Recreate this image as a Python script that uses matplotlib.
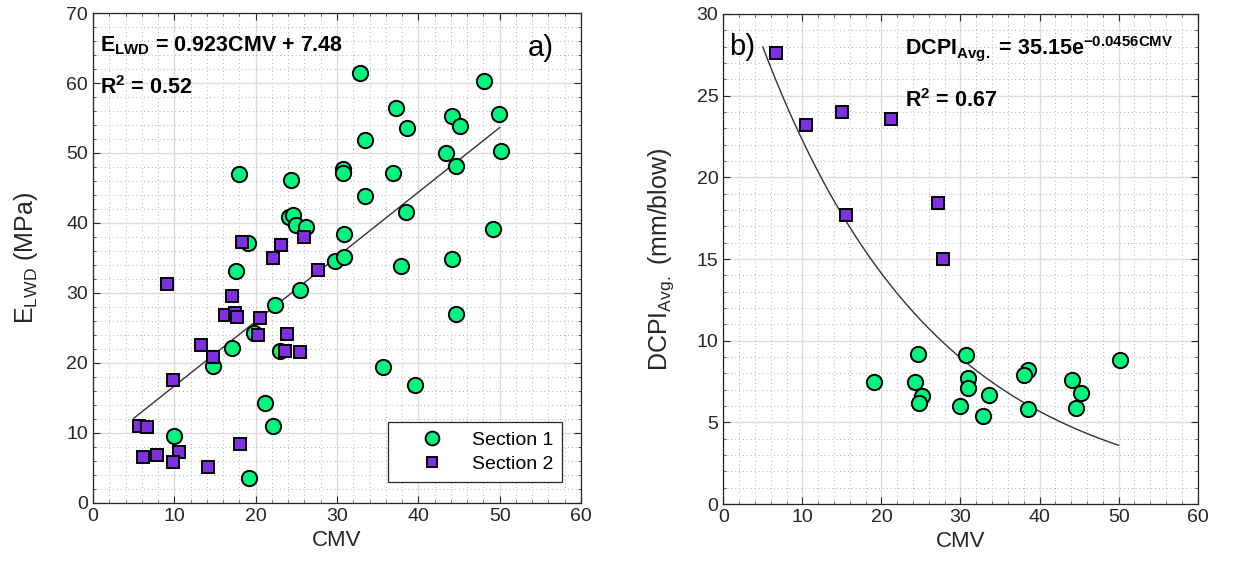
import numpy as np
import matplotlib
matplotlib.use("Agg")
import matplotlib.pyplot as plt
from matplotlib.ticker import MultipleLocator

plt.rcParams["font.family"] = ["Liberation Sans", "DejaVu Sans"]
plt.rcParams["mathtext.default"] = "regular"

GREEN = "#00F57F"
PURPLE = "#7E2FE2"

# (a) E_LWD vs CMV
cmv_s1_a = [32.8, 48.1, 37.3, 44.2, 49.9, 45.1, 38.6, 33.4, 43.4, 50.2, 44.6,
            30.7, 30.7, 36.9, 17.9, 24.4, 33.4, 38.5, 24.1, 24.6, 25.0, 26.2,
            30.9, 49.2, 19.0, 29.8, 30.9, 37.9, 44.1, 17.6, 25.4, 22.4, 44.6,
            19.8, 17.1, 23.0, 14.8, 35.6, 39.6, 21.2, 22.1, 10.0, 19.2]
elwd_s1 = [61.5, 60.3, 56.4, 55.3, 55.5, 53.9, 53.6, 51.9, 50.0, 50.3, 48.2,
           47.7, 47.2, 47.1, 47.0, 46.1, 43.9, 41.6, 40.9, 41.1, 39.7, 39.4,
           38.4, 39.1, 37.2, 34.5, 35.2, 33.9, 34.8, 33.2, 30.4, 28.3, 27.0,
           24.3, 22.2, 21.7, 19.6, 19.4, 16.8, 14.3, 11.0, 9.5, 3.5]
cmv_s2_a = [18.3, 23.1, 26.0, 22.1, 27.7, 9.1, 17.1, 16.2, 17.5, 17.7, 20.5,
            20.3, 23.9, 13.3, 23.6, 25.4, 14.7, 9.8, 5.6, 6.6, 18.1, 6.1,
            7.9, 10.6, 9.8, 14.1]
elwd_s2 = [37.3, 36.9, 38.0, 35.0, 33.3, 31.3, 29.6, 26.9, 27.2, 26.5, 26.4,
           24.0, 24.1, 22.6, 21.7, 21.6, 20.9, 17.6, 11.0, 10.9, 8.4, 6.6,
           6.8, 7.3, 5.8, 5.2]
lin_slope, lin_icept = 0.923, 7.48
lin_range = [5.0, 50.0]

# (b) DCPI vs CMV
cmv_s1_b = [19.1, 24.6, 24.2, 25.1, 24.7, 30.7, 31.0, 31.0, 30.0, 33.6, 32.9,
            38.6, 38.0, 38.6, 44.1, 45.2, 44.6, 50.2]
dcpi_s1 = [7.5, 9.2, 7.5, 6.6, 6.2, 9.1, 7.7, 7.1, 6.0, 6.7, 5.4,
           8.2, 7.9, 5.8, 7.6, 6.8, 5.9, 8.8]
cmv_s2_b = [6.7, 10.5, 15.0, 21.2, 15.5, 27.1, 27.8]
dcpi_s2 = [27.6, 23.2, 24.0, 23.6, 17.7, 18.4, 15.0]
exp_a, exp_b = 35.15, -0.0456
exp_range = [5.0, 50.0]


def style_axes(ax, ymax, ymajor, yminor):
    ax.set_xlim(0, 60)
    ax.set_ylim(0, ymax)
    ax.xaxis.set_major_locator(MultipleLocator(10))
    ax.xaxis.set_minor_locator(MultipleLocator(2))
    ax.yaxis.set_major_locator(MultipleLocator(ymajor))
    ax.yaxis.set_minor_locator(MultipleLocator(yminor))
    ax.tick_params(which="both", direction="in", top=True, right=True,
                   labelsize=14, colors="#262626")
    ax.tick_params(which="major", length=5, width=0.8)
    ax.tick_params(which="minor", length=2.5, width=0.5)
    ax.grid(True, which="major", color="#dcdcdc", linewidth=1.0)
    ax.grid(True, which="minor", color="#b0b0b0", linestyle=(0, (1, 3)),
            linewidth=0.7)
    ax.set_axisbelow(True)
    for sp in ax.spines.values():
        sp.set_color("#262626")
        sp.set_linewidth(0.9)


fig = plt.figure(figsize=(12.34, 5.78), dpi=100)
ax1 = fig.add_axes([0.0754, 0.1298, 0.3954, 0.8477])
ax2 = fig.add_axes([0.5861, 0.1280, 0.3845, 0.8478])

# left panel: linear fit
style_axes(ax1, 70, 10, 2)
xl = np.linspace(lin_range[0], lin_range[1], 50)
ax1.plot(xl, lin_slope * xl + lin_icept, color="#333333", linewidth=1.0,
         zorder=2)
ax1.plot(cmv_s1_a, elwd_s1, "o", ms=11, mfc=GREEN, mec="black", mew=1.4,
         label="Section 1", zorder=3)
ax1.plot(cmv_s2_a, elwd_s2, "s", ms=8, mfc=PURPLE, mec="black", mew=1.4,
         label="Section 2", zorder=4)
ax1.set_xlabel("CMV", fontsize=16, color="#262626")
ax1.set_ylabel("E$_{LWD}$ (MPa)", fontsize=18, color="#262626", labelpad=19)
ax1.text(0.9, 65.4, "E$_{LWD}$ = 0.923CMV + 7.48", fontsize=15.5,
         fontweight="bold", va="center", ha="left")
ax1.text(0.9, 59.4, "R$^2$ = 0.52", fontsize=15.5, fontweight="bold",
         va="center", ha="left")
ax1.text(53.4, 65.0, "a)", fontsize=21, va="center", ha="left")
leg = ax1.legend(loc="lower right", bbox_to_anchor=(0.961, 0.043),
                 borderaxespad=0, fontsize=14, fancybox=False,
                 edgecolor="#262626", framealpha=1, handletextpad=0.25,
                 borderpad=0.45, labelspacing=0.35, handlelength=3.6,
                 markerscale=0.9)
leg.get_frame().set_linewidth(0.9)

# right panel: exponential fit
style_axes(ax2, 30, 5, 1)
xe = np.linspace(exp_range[0], exp_range[1], 200)
ax2.plot(xe, exp_a * np.exp(exp_b * xe), color="#333333", linewidth=1.0,
         zorder=2)
ax2.plot(cmv_s1_b, dcpi_s1, "o", ms=11, mfc=GREEN, mec="black", mew=1.4,
         zorder=3)
ax2.plot(cmv_s2_b, dcpi_s2, "s", ms=8, mfc=PURPLE, mec="black", mew=1.4,
         zorder=4)
ax2.set_xlabel("CMV", fontsize=16, color="#262626")
ax2.set_ylabel("DCPI$_{Avg.}$ (mm/blow)", fontsize=18, color="#262626",
               labelpad=15)
ax2.text(23.0, 27.9, "DCPI$_{Avg.}$ = 35.15e$^{-0.0456CMV}$", fontsize=15.5,
         fontweight="bold", va="center", ha="left")
ax2.text(23.0, 24.7, "R$^2$ = 0.67", fontsize=15.5, fontweight="bold",
         va="center", ha="left")
ax2.text(0.7, 28.0, "b)", fontsize=21, va="center", ha="left")

fig.savefig("out.png", dpi=100)
